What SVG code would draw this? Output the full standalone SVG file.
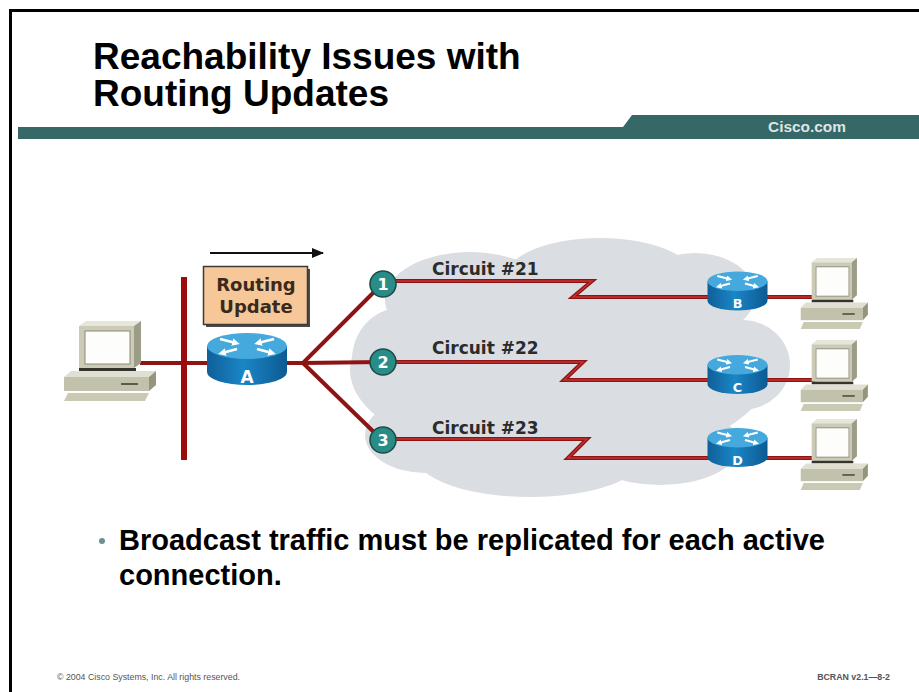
<svg xmlns="http://www.w3.org/2000/svg" xmlns:xlink="http://www.w3.org/1999/xlink" width="919" height="692" viewBox="0 0 919 692">
  <style>
    .title { font-family: "Liberation Sans", Arial, sans-serif; font-weight: bold; font-size: 37px; fill: #000; }
    .bullet { font-family: "Liberation Sans", Arial, sans-serif; font-weight: bold; font-size: 29px; fill: #000; }
    .foot { font-family: "Liberation Sans", Arial, sans-serif; font-size: 8.8px; fill: #555; }
    .lbl { font-family: "DejaVu Sans", Verdana, sans-serif; font-weight: bold; font-size: 17px; fill: #2b2b2b; }
    .upd { font-family: "DejaVu Sans", Verdana, sans-serif; font-weight: bold; font-size: 18px; fill: #3b2a1c; text-anchor: middle; }
    .rl { font-family: "DejaVu Sans", Verdana, sans-serif; font-weight: bold; font-size: 17px; fill: #fff; text-anchor: middle; }
    .num { font-family: "DejaVu Sans", Verdana, sans-serif; font-weight: bold; font-size: 16px; fill: #fff; text-anchor: middle; }
    .wire { fill: none; stroke: #8e1414; stroke-width: 4; stroke-linejoin: miter; }
    .wire-hi { fill: none; stroke: #c43232; stroke-width: 1.4; }
    .cloud { fill: #dadde1; }
    .circ { fill: #2a8c87; stroke: #1b4d4a; stroke-width: 1.6; }
  </style>
  <defs>
    <linearGradient id="rbody" x1="0" y1="0" x2="1" y2="0">
      <stop offset="0" stop-color="#0f5f98"/>
      <stop offset="0.45" stop-color="#1a86c6"/>
      <stop offset="1" stop-color="#0d5a92"/>
    </linearGradient>
    <marker id="wa" viewBox="0 0 4 4" refX="2" refY="2" markerWidth="3" markerHeight="3" orient="auto">
      <path d="M0,0 L4,2 L0,4 z" fill="#fff"/>
    </marker>
    <marker id="ka" viewBox="0 0 12 10" refX="11" refY="5" markerWidth="12" markerHeight="10" markerUnits="userSpaceOnUse" orient="auto">
      <path d="M0,0 L12,5 L0,10 z" fill="#111"/>
    </marker>
    <!-- router: cylinder with four arrows on its top face, centred on (0,0) -->
    <g id="router">
      <path d="M-40,-13 L-40,13 A40,13 0 0 0 40,13 L40,-13 Z" fill="url(#rbody)"/>
      <ellipse cx="0" cy="-13" rx="40" ry="13" fill="#45a9dd"/>
      <g stroke="#fff" stroke-width="2.6" fill="none">
        <line x1="-27" y1="-20" x2="-11" y2="-16" marker-end="url(#wa)"/>
        <line x1="27" y1="-20" x2="11" y2="-16" marker-end="url(#wa)"/>
        <line x1="-10" y1="-10" x2="-25" y2="-6" marker-end="url(#wa)"/>
        <line x1="10" y1="-10" x2="25" y2="-6" marker-end="url(#wa)"/>
      </g>
    </g>
    <!-- workstation: monitor on a flat desktop case, 93 x 82 -->
    <g id="pc">
      <polygon points="16,6 23,1 78,1 71,6" fill="#e6e6d9"/>
      <rect x="16" y="6" width="55" height="42" fill="#cbcbb7"/>
      <polygon points="71,6 78,1 78,43 71,48" fill="#9d9d87"/>
      <rect x="22" y="11" width="45" height="33" fill="#fdfdfb" stroke="#8a8a76" stroke-width="1"/>
      <rect x="16" y="48" width="57" height="3" fill="#34342c"/>
      <polygon points="1,57 8,51 93,51 86,57" fill="#e0e0d2"/>
      <rect x="1" y="57" width="85" height="14" fill="#c2c2ac"/>
      <polygon points="86,57 93,51 93,65 86,71" fill="#95957e"/>
      <rect x="58" y="63" width="17" height="2" fill="#5c5c4c"/>
      <polygon points="5,73 86,73 82,81 1,81" fill="#c9c9b4"/>
    </g>
  </defs>

  <rect width="919" height="692" fill="#fff"/>

  <!-- slide frame and header band -->
  <g id="frame">
    <line x1="10.5" y1="10.5" x2="919" y2="10.5" stroke="#000" stroke-width="3"/>
    <line x1="10.5" y1="9" x2="10.5" y2="692" stroke="#000" stroke-width="3"/>
    <polygon points="18,127 623,127 632,115 919,115 919,139 18,139" fill="#356866"/>
    <text x="768" y="132" font-family="Liberation Sans, Arial, sans-serif" font-weight="bold" font-size="14" fill="#dfe5e5" textLength="78" lengthAdjust="spacingAndGlyphs">Cisco.com</text>
  </g>

  <g id="title">
    <text class="title" x="93" y="69">Reachability Issues with</text>
    <text class="title" x="93" y="106">Routing Updates</text>
  </g>

  <!-- frame relay cloud -->
  <g id="cloud" class="cloud">
    <ellipse cx="560" cy="370" rx="210" ry="95"/>
    <ellipse cx="470" cy="300" rx="85" ry="48"/>
    <ellipse cx="600" cy="278" rx="95" ry="40"/>
    <ellipse cx="695" cy="295" rx="60" ry="42"/>
    <ellipse cx="400" cy="360" rx="48" ry="52"/>
    <ellipse cx="742" cy="365" rx="48" ry="45"/>
    <ellipse cx="530" cy="455" rx="115" ry="42"/>
    <ellipse cx="660" cy="445" rx="80" ry="40"/>
    <ellipse cx="425" cy="435" rx="60" ry="38"/>
  </g>

  <!-- wires -->
  <g id="connectors">
    <g class="wire">
      <line x1="140" y1="363" x2="210" y2="363"/>
      <polyline points="285,363 303,363 382,284"/>
      <line x1="303" y1="363" x2="382" y2="362"/>
      <line x1="303" y1="363" x2="382" y2="440"/>
      <polyline points="382,281 592,281 573,297 815,297"/>
      <polyline points="382,362 583,362 564,380 815,380"/>
      <polyline points="382,439 587,439 568,458 815,458"/>
    </g>
    <g class="wire-hi">
      <polyline points="382,281 592,281 573,297 815,297"/>
      <polyline points="382,362 583,362 564,380 815,380"/>
      <polyline points="382,439 587,439 568,458 815,458"/>
    </g>
    <line x1="210" y1="253" x2="323" y2="253" stroke="#111" stroke-width="2" marker-end="url(#ka)"/>
  </g>

  <!-- LAN segment -->
  <g id="lan">
    <rect x="181" y="277" width="6" height="183" fill="#9b0d0d"/>
  </g>

  <g id="pc-a"><use href="#pc" transform="translate(63,320)"/></g>

  <g id="router-a" transform="translate(247,359)">
    <use href="#router"/>
    <text class="rl" x="0" y="24">A</text>
  </g>

  <g id="routing-update">
    <rect x="206" y="269" width="104" height="58" fill="#4a4a4a"/>
    <rect x="203.5" y="266.5" width="104" height="58" fill="#f6c899" stroke="#3a3a3a" stroke-width="1.5"/>
    <text class="upd" x="256" y="291">Routing</text>
    <text class="upd" x="256" y="313">Update</text>
  </g>

  <g id="dlci-1"><circle class="circ" cx="383" cy="284" r="13"/><text class="num" x="383" y="290">1</text></g>
  <g id="dlci-2"><circle class="circ" cx="383" cy="362" r="13"/><text class="num" x="383" y="368">2</text></g>
  <g id="dlci-3"><circle class="circ" cx="383" cy="440" r="13"/><text class="num" x="383" y="446">3</text></g>

  <g id="circuit-labels">
    <text class="lbl" x="432" y="275">Circuit #21</text>
    <text class="lbl" x="432" y="354">Circuit #22</text>
    <text class="lbl" x="432" y="434">Circuit #23</text>
  </g>

  <g id="router-b" transform="translate(737.5,291) scale(0.75)">
    <use href="#router"/>
    <text class="rl" x="0" y="23">B</text>
  </g>
  <g id="router-c" transform="translate(737.5,374.5) scale(0.75)">
    <use href="#router"/>
    <text class="rl" x="0" y="23">C</text>
  </g>
  <g id="router-d" transform="translate(737.5,447.5) scale(0.75)">
    <use href="#router"/>
    <text class="rl" x="0" y="23">D</text>
  </g>

  <g id="pc-b"><use href="#pc" transform="translate(800,257) scale(0.73,0.89)"/></g>
  <g id="pc-c"><use href="#pc" transform="translate(800,339) scale(0.73,0.89)"/></g>
  <g id="pc-d"><use href="#pc" transform="translate(800,418) scale(0.73,0.89)"/></g>

  <g id="bullets">
    <circle cx="102" cy="541" r="3" fill="#6a9090"/>
    <text class="bullet" x="119" y="550">Broadcast traffic must be replicated for each active</text>
    <text class="bullet" x="119" y="585">connection.</text>
  </g>

  <g id="footer">
    <text class="foot" x="57" y="680">© 2004 Cisco Systems, Inc. All rights reserved.</text>
    <text class="foot" x="890" y="680" font-weight="bold" text-anchor="end">BCRAN v2.1—8-2</text>
  </g>
</svg>
